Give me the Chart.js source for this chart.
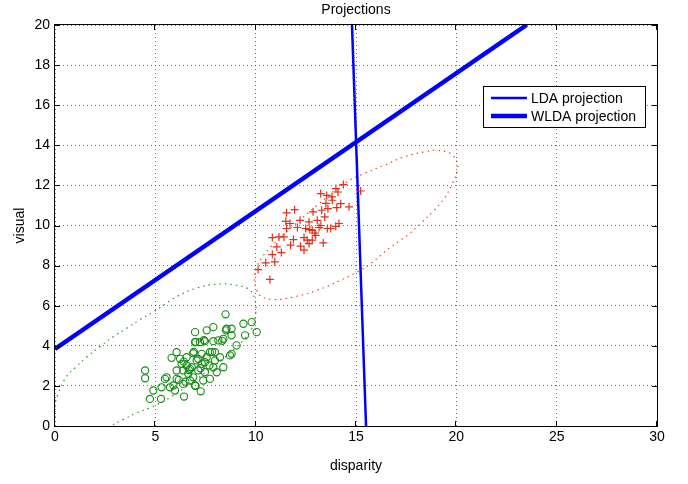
<!DOCTYPE html>
<html>
<head>
<meta charset="utf-8">
<title>Projections</title>
<script src="https://cdn.jsdelivr.net/npm/chart.js@4.4.1/dist/chart.umd.min.js"></script>
<style>
  body { margin: 0; background: #fff; }
</style>
</head>
<body>
<canvas id="projChart" width="688" height="484"></canvas>
<script>
// class 1 samples (green circles): [disparity, visual]
var greenPts = [
  [8.5,5.57],[7.89,4.93],[7.56,4.77],[6.98,4.68],[8.8,4.85],[8.55,4.85],[8.52,4.77],[9.39,5.1],
  [9.8,5.18],[9.47,4.52],[10.05,4.68],[8.8,4.52],[8.39,4.35],[9.05,4.02],[8.8,3.6],[8.72,3.52],
  [6.98,4.18],[7.23,4.18],[7.47,4.23],[7.89,4.23],[8.14,4.27],[6.06,3.68],[5.81,3.4],[6.89,3.63],
  [7.31,3.6],[7.72,3.68],[7.97,3.68],[7.56,3.43],[7.06,3.27],[7.47,3.18],[7.97,3.27],[7.69,3.02],
  [8.39,2.93],[6.31,3.1],[6.56,3.02],[6.81,2.93],[6.06,2.77],[6.39,2.77],[6.73,2.85],[7.14,2.77],
  [7.47,2.68],[8.06,2.68],[7.72,2.35],[6.73,2.27],[6.98,2.02],[6.39,2.1],[6.06,2.35],[5.56,2.43],
  [5.48,2.35],[5.9,2.02],[5.73,1.93],[5.98,1.77],[5.31,1.93],[4.9,1.77],[4.49,2.77],[4.49,2.38],
  [4.73,1.35],[5.28,1.35],[6.43,1.47],[7.26,1.73],[7.31,3.1],[7.14,3.35],[6.56,3.43],[6.23,3.35],
  [6.64,2.6],[6.89,2.43],[7.39,2.27],[7.89,2.93],[8.22,3.43],[7.0,4.2],[7.42,4.28],[8.33,4.25],
  [6.92,3.7],[7.83,3.7],[6.42,3.21],[6.67,2.79],[7.25,2.88],[6.5,2.21],[6.17,2.3],[7.0,2.0]
];
// class 2 samples (red plus signs)
var redPts = [
  [14.37,12.04],[14.1,11.67],[13.54,11.5],[13.24,11.59],[13.82,11.26],[14.24,11.09],[14.65,10.93],
  [14.04,10.89],[13.6,10.84],[13.29,10.76],[12.86,10.68],[11.94,10.79],[11.54,10.63],[11.5,10.21],
  [11.71,10.1],[12.21,10.26],[12.66,10.18],[13.07,10.26],[13.44,10.43],[13.74,9.85],[14.15,10.1],
  [13.99,9.96],[13.57,9.85],[13.16,9.9],[12.82,9.76],[12.49,9.85],[12.08,9.9],[11.54,9.85],
  [11.41,9.43],[11.16,9.43],[10.83,9.4],[11.88,9.3],[12.41,9.4],[12.82,9.27],[13.37,9.13],
  [12.66,9.1],[12.24,8.97],[12.41,8.77],[11.74,9.02],[11.05,8.93],[11.28,8.65],[10.83,8.55],
  [10.95,8.19],[10.5,8.14],[10.12,7.8],[10.71,7.31],[15.23,11.72],[12.99,9.51],[12.57,9.27],
  [13.8,11.43],[14.0,11.84],[12.95,9.62],[13.25,10.0],[12.7,9.79],[13.5,11.1]
];
// dotted contour around class 1 (read along the visible arc)
var greenContour = [
  [0.0,0.4],[0.0,1.07],[0.17,1.65],[0.58,2.48],[1.08,2.98],[1.58,3.44],[2.25,3.97],[2.92,4.46],
  [3.58,4.88],[4.25,5.32],[4.92,5.7],[6.06,6.45],[7.06,6.88],[8.06,7.07],[9.05,7.02],[9.72,6.77],
  [9.97,6.27],[10.0,5.6],[9.85,4.95],[9.4,4.3],[8.6,3.55],[7.6,2.75],[6.6,2.0],[5.7,1.4],
  [4.75,0.91],[4.08,0.66],[3.42,0.33],[2.75,0.0]
];
// dotted contour around class 2
var redContour = [
  [20.05,13.17],[19.72,13.58],[19.05,13.75],[18.39,13.67],[17.39,13.42],[16.4,13.0],[15.4,12.59],
  [14.4,12.09],[13.07,11.01],[11.91,10.01],[10.75,8.93],[10.08,8.02],[9.95,7.44],[10.0,6.94],
  [10.25,6.48],[10.91,6.31],[11.91,6.44],[13.07,6.77],[14.24,7.27],[15.07,7.69],[15.73,8.1],
  [16.73,8.93],[17.56,9.51],[18.22,10.1],[18.89,10.76],[19.39,11.34],[19.8,12.09],[20.05,12.75],
  [20.05,13.17]
];
// projection directions (end points on the axes box)
var ldaLine = [[14.8,20],[15.5,0]];
var wldaLine = [[0,3.84],[23.5,20]];

var xTickValues = [0, 5, 10, 15, 20, 25, 30];
var yTickValues = [0, 2, 4, 6, 8, 10, 12, 14, 16, 18, 20];

var FONT = '"Liberation Sans", Arial, Helvetica, sans-serif';

function toXY(arr) {
  return arr.map(function (p) { return { x: p[0], y: p[1] }; });
}

// MATLAB style box, inward ticks, title and legend
var matlabAxes = {
  id: 'matlabAxes',
  afterDatasetsDraw: function (chart) {
    var ctx = chart.ctx, a = chart.chartArea;
    var xs = chart.scales.x, ys = chart.scales.y;
    ctx.save();
    ctx.strokeStyle = '#000';
    ctx.lineWidth = 1;
    ctx.strokeRect(a.left - 0.5, a.top - 0.5, a.right - a.left + 1, a.bottom - a.top + 1);
    ctx.beginPath();
    xTickValues.forEach(function (v) {
      var px = Math.round(xs.getPixelForValue(v)) - 0.5;
      ctx.moveTo(px, a.bottom); ctx.lineTo(px, a.bottom - 5);
      ctx.moveTo(px, a.top); ctx.lineTo(px, a.top + 5);
    });
    yTickValues.forEach(function (v) {
      var py = Math.round(ys.getPixelForValue(v)) + 0.5;
      ctx.moveTo(a.left, py); ctx.lineTo(a.left + 5, py);
      ctx.moveTo(a.right, py); ctx.lineTo(a.right - 5, py);
    });
    ctx.stroke();

    // title
    ctx.fillStyle = '#000';
    ctx.font = '14px ' + FONT;
    ctx.textAlign = 'center';
    ctx.textBaseline = 'middle';
    ctx.fillText('Projections', (a.left + a.right) / 2, 10);

    // legend
    var items = chart.data.datasets.filter(function (d) { return d.inLegend; });
    var textW = 0;
    items.forEach(function (d) { textW = Math.max(textW, ctx.measureText(d.label).width); });
    var boxW = 8 + 36 + 4 + textW + 9, boxH = 41;
    var bx = a.right - 12 - boxW, by = a.top + 61;
    ctx.fillStyle = '#fff';
    ctx.fillRect(bx, by, boxW, boxH);
    ctx.strokeStyle = '#000';
    ctx.lineWidth = 1;
    ctx.strokeRect(Math.round(bx) + 0.5, Math.round(by) + 0.5, Math.round(boxW), boxH);
    ctx.textAlign = 'left';
    items.forEach(function (d, i) {
      var ry = by + 12 + i * 18;
      ctx.strokeStyle = d.borderColor;
      ctx.lineWidth = d.borderWidth;
      ctx.beginPath();
      ctx.moveTo(bx + 8, ry); ctx.lineTo(bx + 44, ry);
      ctx.stroke();
      ctx.fillStyle = '#000';
      ctx.fillText(d.label, bx + 48, ry + 1);
    });
    ctx.restore();
  }
};

var gridOpts = { color: 'rgba(0,0,0,0.55)', lineWidth: 1, drawTicks: false };

var ctx = document.getElementById('projChart').getContext('2d');
var projChart = new Chart(ctx, {
  type: 'scatter',
  data: {
    datasets: [
      {
        label: 'class 1',
        data: toXY(greenPts),
        pointStyle: 'circle',
        pointRadius: 3.6,
        borderColor: '#138a13',
        backgroundColor: 'rgba(0,0,0,0)',
        borderWidth: 1.1
      },
      {
        label: 'class 2',
        data: toXY(redPts),
        pointStyle: 'cross',
        pointRadius: 4,
        borderColor: '#e0301a',
        backgroundColor: '#e0301a',
        borderWidth: 1.2
      },
      {
        label: 'LDA projection',
        inLegend: true,
        data: toXY(ldaLine),
        showLine: true,
        pointRadius: 0,
        borderColor: '#0000ff',
        borderWidth: 2.5
      },
      {
        label: 'WLDA projection',
        inLegend: true,
        data: toXY(wldaLine),
        showLine: true,
        pointRadius: 0,
        borderColor: '#0000ff',
        borderWidth: 4.5
      },
      {
        label: 'class 1 contour',
        data: toXY(greenContour),
        showLine: true,
        tension: 0.4,
        pointRadius: 0,
        borderColor: '#2e9a2e',
        borderWidth: 1.2,
        borderDash: [1.5, 4]
      },
      {
        label: 'class 2 contour',
        data: toXY(redContour),
        showLine: true,
        tension: 0.4,
        pointRadius: 0,
        borderColor: '#e84a2a',
        borderWidth: 1.2,
        borderDash: [1.5, 4]
      }
    ]
  },
  options: {
    responsive: false,
    animation: false,
    events: [],
    devicePixelRatio: 1,
    layout: { padding: { left: 0, right: 31, top: 25, bottom: 0 } },
    plugins: {
      legend: { display: false },
      tooltip: { enabled: false }
    },
    scales: {
      x: {
        type: 'linear',
        min: 0,
        max: 30,
        afterBuildTicks: function (s) { s.ticks = xTickValues.map(function (v) { return { value: v }; }); },
        afterFit: function (s) { s.height = 58; },
        grid: gridOpts,
        border: { display: false, dash: [1, 3] },
        ticks: { color: '#000', padding: 3, font: { family: FONT, size: 14 } },
        title: { display: true, text: 'disparity', color: '#000', padding: { top: 0, bottom: 9 }, font: { family: FONT, size: 14 } }
      },
      y: {
        type: 'linear',
        min: 0,
        max: 20,
        afterBuildTicks: function (s) { s.ticks = yTickValues.map(function (v) { return { value: v }; }); },
        afterFit: function (s) { s.width = 55; },
        grid: gridOpts,
        border: { display: false, dash: [1, 3] },
        ticks: { color: '#000', padding: 5, font: { family: FONT, size: 14 } },
        title: { display: true, text: 'visual', color: '#000', padding: { top: 12, bottom: 0 }, font: { family: FONT, size: 14 } }
      }
    }
  },
  plugins: [matlabAxes]
});
</script>
</body>
</html>
